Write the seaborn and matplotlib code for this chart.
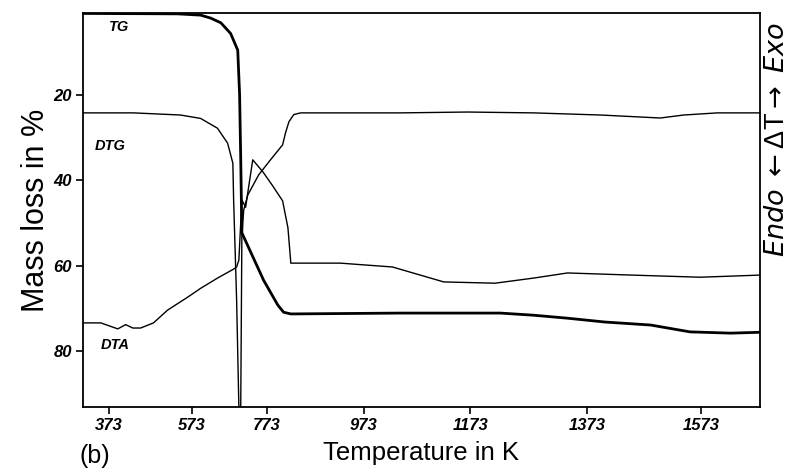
import numpy as np
import pandas as pd
import matplotlib
matplotlib.use('Agg')
import matplotlib.pyplot as plt
import seaborn as sns

# temperature (K) and mass loss (%)
tg_temp = [311, 539, 597, 624, 651, 677, 696, 701, 704, 707, 765, 796, 808, 823,
           1042, 1224, 1281, 1339, 1404, 1484, 1553, 1624, 1676]
tg_val = [0.9, 1.0, 1.3, 2.0, 3.1, 5.6, 9.5, 20, 35, 52.3, 63.4, 69.2, 70.9, 71.3,
          71.1, 71.1, 71.6, 72.3, 73.2, 73.9, 75.5, 75.8, 75.6]

dtg_temp = [311, 433, 546, 597, 642, 669, 683, 685, 693, 699, 704, 707, 712, 723,
            752, 781, 806, 812, 819, 829, 843, 925, 1042, 1167, 1281, 1396, 1501,
            1542, 1601, 1676]
dtg_val = [24.2, 24.2, 24.7, 25.5, 27.8, 31.3, 36.0, 44.6, 68.0, 93.0, 93.0, 53.2,
           46.9, 43.4, 38.7, 35.2, 31.7, 28.9, 26.3, 24.6, 24.2, 24.2, 24.2, 24.0,
           24.2, 24.7, 25.4, 24.7, 24.2, 24.2]

dta_temp = [311, 354, 395, 414, 431, 450, 481, 515, 563, 597, 642, 685, 693, 699,
            707, 717, 736, 763, 785, 806, 817, 823, 843, 925, 1027, 1123, 1215,
            1281, 1339, 1451, 1571, 1676]
dta_val = [73.4, 73.4, 74.8, 73.8, 74.6, 74.6, 73.4, 70.4, 67.4, 65.3, 62.9, 60.8,
           60.3, 58.7, 44.6, 46.3, 35.2, 38.0, 41.2, 44.8, 51.1, 59.4, 59.4, 59.4,
           60.3, 63.8, 64.1, 62.9, 61.7, 62.2, 62.7, 62.2]

x_ticks = [373, 573, 773, 973, 1173, 1373, 1573]
y_ticks = [20, 40, 60, 80]

# the printed temperature axis is not linear: tick spacing taken from the figure
scale_temp = np.array([300, 373, 573, 773, 973, 1173, 1373, 1573, 1700])
scale_pos = np.array([77.7, 108, 191, 266, 363, 470, 587, 701, 773.4])


def fwd(t):
    return np.interp(t, scale_temp, scale_pos)


def inv(p):
    return np.interp(p, scale_pos, scale_temp)


sns.set_style('ticks')
plt.rcParams['font.family'] = ['Liberation Sans', 'DejaVu Sans']
plt.rcParams['text.color'] = 'black'
plt.rcParams['axes.labelcolor'] = 'black'
plt.rcParams['xtick.color'] = 'black'
plt.rcParams['ytick.color'] = 'black'

fig = plt.figure(figsize=(7.94, 4.71), dpi=100)
ax = fig.add_axes([0.1045, 0.1359, 0.8527, 0.8365])

tg = pd.DataFrame({'T': tg_temp, 'v': tg_val})
dtg = pd.DataFrame({'T': dtg_temp, 'v': dtg_val})
dta = pd.DataFrame({'T': dta_temp, 'v': dta_val})

sns.lineplot(data=tg, x='T', y='v', sort=False, estimator=None, color='black', lw=2.0, ax=ax)
sns.lineplot(data=dtg, x='T', y='v', sort=False, estimator=None, color='black', lw=1.0, ax=ax)
sns.lineplot(data=dta, x='T', y='v', sort=False, estimator=None, color='black', lw=1.0, ax=ax)

ax.set_xscale('function', functions=(fwd, inv))
ax.set_xlim(311, 1676)
ax.set_ylim(93.1, 0.8)
ax.set_xticks(x_ticks)
ax.set_xticklabels([str(t) for t in x_ticks])
ax.set_yticks(y_ticks)
ax.set_yticklabels([str(t) for t in y_ticks])
ax.minorticks_off()

for lab in ax.get_xticklabels() + ax.get_yticklabels():
    lab.set_fontweight('bold')
    lab.set_fontstyle('italic')
    lab.set_fontsize(12)
ax.tick_params(axis='both', direction='out', length=5, width=1.2, color='black', pad=3)

for s in ax.spines.values():
    s.set_linewidth(1.3)
    s.set_color('black')

ax.set_xlabel('Temperature in K', fontsize=18.5, labelpad=6)
ax.set_ylabel('Mass loss in %', fontsize=22, labelpad=2)

# curve labels
lab_kw = dict(fontsize=10.5, fontweight='bold', fontstyle='italic')
ax.text(373, 5.0, 'TG', **lab_kw)
ax.text(340, 33.0, 'DTG', **lab_kw)
ax.text(355, 79.5, 'DTA', **lab_kw)

fig.text(0.978, 0.703, r'$\mathit{Endo}$ $\leftarrow$ΔT$\rightarrow$ $\mathit{Exo}$',
         rotation=90, fontsize=19.5, ha='center', va='center')
fig.text(0.10, 0.032, '(b)', fontsize=18, ha='left', va='center')

fig.savefig('out.png', dpi=100)
